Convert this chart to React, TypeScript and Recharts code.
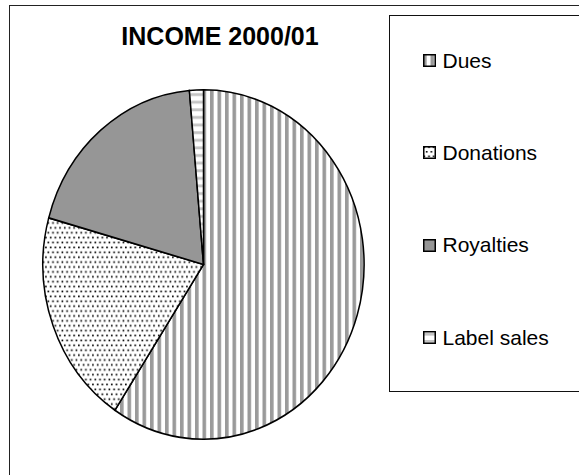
import { PieChart, Pie, Cell, Legend } from 'recharts';

// Income shares (percent)
const categories = ['Dues', 'Donations', 'Royalties', 'Label sales'];
const shares = [59.3, 20.0, 19.3, 1.4];
const fills = ['url(#pat-dues)', 'url(#pat-donations)', '#969696', 'url(#pat-label)'];

const data = categories.map((name, i) => ({ name, value: shares[i] }));

const FONT = '"Liberation Sans", Arial, Helvetica, sans-serif';
const CX = 203.5;
const CY = 264.5;

const Swatch = ({ fill }: { fill: string }) => (
  <svg width={13} height={13} style={{ display: 'block' }}>
    <rect x={0.75} y={0.75} width={11.5} height={11.5} fill={fill} stroke="#000" strokeWidth={1.5} />
  </svg>
);

// legend box runs off the right edge of the picture, as in the source
const renderLegend = () => (
  <div
    style={{
      position: 'relative',
      width: 230,
      height: 375,
      border: '1.5px solid #111',
      background: '#fff',
      fontFamily: FONT,
      fontSize: 21,
      color: '#000',
    }}
  >
    {categories.map((name, i) => (
      <div
        key={name}
        style={{
          position: 'absolute',
          left: 33,
          top: 45 + i * 92.4,
          transform: 'translateY(-50%)',
          display: 'flex',
          alignItems: 'center',
          whiteSpace: 'nowrap',
        }}
      >
        <Swatch fill={fills[i]} />
        <span style={{ marginLeft: 7 }}>{name}</span>
      </div>
    ))}
  </div>
);

export default function App() {
  return (
    <div
      style={{
        position: 'fixed',
        left: 0,
        top: 0,
        width: 579,
        height: 475,
        overflow: 'hidden',
        background: '#fff',
      }}
    >
      <style>{`.ellipse-pie { transform: scaleY(1.043); transform-origin: ${CX}px ${CY}px; }`}</style>
      {/* chart frame, cut off on the right and bottom like the source */}
      <div
        style={{
          position: 'absolute',
          left: 8.5,
          top: 4.5,
          width: 620,
          height: 520,
          border: '1.5px solid #222',
        }}
      />
      <div style={{ position: 'absolute', left: 0, top: 0 }}>
        <PieChart width={579} height={475} margin={{ top: 0, right: 0, bottom: 0, left: 0 }}>
          <defs>
            <pattern id="pat-dues" patternUnits="userSpaceOnUse" width={7.5} height={8}>
              <rect width={7.5} height={8} fill="#fff" />
              <rect x={0} width={3.6} height={8} fill="#9a9a9a" />
            </pattern>
            <pattern id="pat-label" patternUnits="userSpaceOnUse" width={8} height={7}>
              <rect width={8} height={7} fill="#fff" />
              <rect y={2} width={8} height={2.6} fill="#c4c4c4" />
            </pattern>
            <pattern id="pat-donations" patternUnits="userSpaceOnUse" width={9.4} height={9}>
              <rect width={9.4} height={9} fill="#fff" />
              <rect x={0.5} y={0.5} width={1.6} height={1.6} fill="#000" />
              <rect x={5.2} y={0.5} width={1.6} height={1.6} fill="#000" />
              <rect x={2.85} y={5} width={1.6} height={1.6} fill="#000" />
              <rect x={7.55} y={5} width={1.6} height={1.6} fill="#000" />
            </pattern>
          </defs>
          <text
            x={220}
            y={45}
            textAnchor="middle"
            fontFamily={FONT}
            fontSize={25}
            fontWeight="bold"
            fill="#000"
          >
            INCOME 2000/01
          </text>
          <Pie
            className="ellipse-pie"
            data={data}
            dataKey="value"
            nameKey="name"
            cx={CX}
            cy={CY}
            innerRadius={0}
            outerRadius={160.6}
            startAngle={90}
            endAngle={-270}
            stroke="#000"
            strokeWidth={1.5}
            isAnimationActive={false}
          >
            {data.map((entry, i) => (
              <Cell key={entry.name} fill={fills[i]} />
            ))}
          </Pie>
          <Legend
            content={renderLegend}
            wrapperStyle={{ position: 'absolute', left: 388.5, top: 14.5, width: 'auto', height: 'auto' }}
          />
        </PieChart>
      </div>
    </div>
  );
}
